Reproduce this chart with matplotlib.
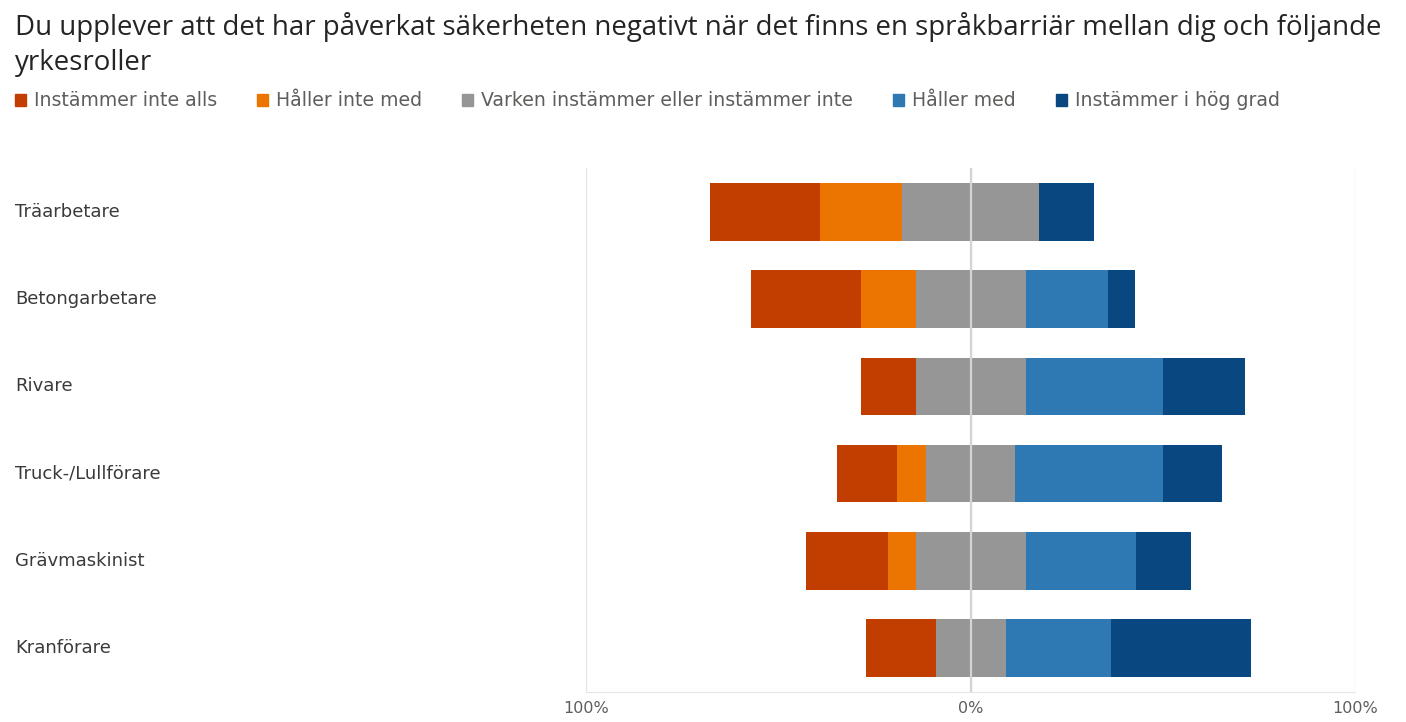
import numpy as np
import matplotlib
matplotlib.use('Agg')
import matplotlib.pyplot as plt
from matplotlib.patches import Patch
from matplotlib.transforms import blended_transform_factory

plt.rcParams['font.family'] = ['DejaVu Sans']

title = ('Du upplever att det har påverkat säkerheten negativt när det finns en språkbarriär mellan dig och följande\n'
         'yrkesroller')
roles = ['Träarbetare', 'Betongarbetare', 'Rivare', 'Truck-/Lullförare', 'Grävmaskinist', 'Kranförare']
answers = ['Instämmer inte alls', 'Håller inte med', 'Varken instämmer eller instämmer inte',
           'Håller med', 'Instämmer i hög grad']
colors = ['#C23D00', '#EC7400', '#969696', '#2E78B4', '#08477F']

# percent per answer, per role
inte_alls = [28.6, 28.6, 14.3, 15.4, 21.4, 18.2]
inte_med = [21.4, 14.3, 0.0, 7.7, 7.1, 0.0]
varken = [35.7, 28.6, 28.6, 23.1, 28.6, 18.2]
med = [0.0, 21.4, 35.7, 38.5, 28.6, 27.3]
hog_grad = [14.3, 7.1, 21.4, 15.4, 14.3, 36.4]

xticks = [-100, 0, 100]
xticklabels = ['100%', '0%', '100%']

fig = plt.figure(figsize=(14.06, 7.22), dpi=100)
ax = fig.add_axes([0.4168, 0.042, 0.547, 0.725])

series = np.array([inte_alls, inte_med, varken, med, hog_grad])
y = np.arange(len(roles))
start = -(series[0] + series[1] + series[2] / 2)
left = start.copy()
for vals, c in zip(series, colors):
    ax.barh(y, vals, left=left, height=0.66, color=c, zorder=2)
    left = left + vals

ax.set_ylim(len(roles) - 0.5, -0.5)
ax.set_xlim(-100, 100)
ax.set_xticks(xticks)
ax.set_xticklabels(xticklabels, color='#605E5C', fontsize=11.5)
ax.tick_params(axis='x', length=0, pad=7)
ax.set_yticks([])
for v in xticks:
    ax.axvline(v, color='#E6E6E6', lw=1, zorder=1)
ax.axvline(0, color='#D4D4D4', lw=1.6, zorder=3)
for s in ['top', 'right', 'left']:
    ax.spines[s].set_visible(False)
ax.spines['bottom'].set_color('#E6E6E6')

tr = blended_transform_factory(fig.transFigure, ax.transData)
for yi, r in zip(y, roles):
    ax.text(15 / 1406, yi, r, transform=tr, ha='left', va='center', fontsize=13, color='#3B3A39')

fig.text(15 / 1406, 1 - 12 / 722, title, ha='left', va='top', fontsize=19.9, color='#252423',
         linespacing=1.35, family=['Open Sans', 'DejaVu Sans'])

handles = [Patch(color=c) for c in colors]
fig.legend(handles, answers, loc='center left', bbox_to_anchor=(15 / 1406, 1 - 101 / 722), ncol=5,
           frameon=False, fontsize=13.6, handlelength=0.58, handleheight=0.58, handletextpad=0.4,
           columnspacing=2.15, labelcolor='#605E5C', borderaxespad=0, borderpad=0)

fig.savefig('out.png', dpi=100)
